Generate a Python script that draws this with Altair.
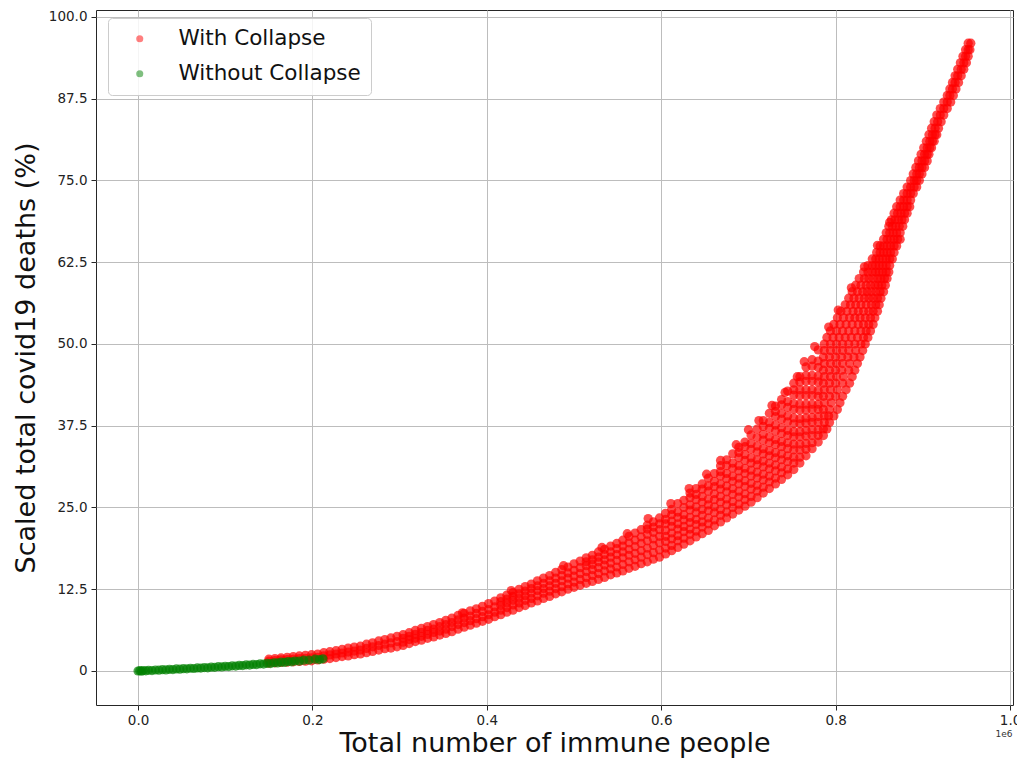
import altair as alt
import pandas as pd

# ---- series values (x in millions of immune people, y in % of deaths) ----

# "With Collapse": gentle part of the curve, one column of points per x
red_low = [
    (0.150, [1.2, 1.5, 1.8]), (0.157, [1.25, 1.6, 1.9]), (0.164, [1.3, 1.7, 2.0]),
    (0.171, [1.35, 1.75, 2.1]), (0.178, [1.4, 1.8, 2.2]), (0.185, [1.45, 1.9, 2.3]),
    (0.192, [1.5, 1.95, 2.4]), (0.199, [1.55, 2.0, 2.5]), (0.206, [1.7, 2.1, 2.6]),
    (0.213, [1.8, 2.3, 2.8]), (0.220, [1.9, 2.45, 2.95]), (0.227, [2.05, 2.6, 3.1]),
    (0.234, [2.2, 2.75, 3.3]), (0.241, [2.3, 2.9, 3.5]), (0.248, [2.5, 3.05, 3.65]),
    (0.255, [2.6, 3.2, 3.8]), (0.262, [2.8, 3.45, 4.1]), (0.269, [3.0, 3.7, 4.3]),
    (0.276, [3.2, 3.9, 4.6]), (0.283, [3.4, 4.1, 4.8]), (0.290, [3.5, 4.3, 5.05]),
    (0.297, [3.7, 4.5, 5.3]), (0.304, [3.9, 4.4, 5.0, 5.55]), (0.311, [4.2, 4.8, 5.3, 5.85]),
    (0.318, [4.5, 5.0, 5.6, 6.2]), (0.325, [4.7, 5.3, 5.9, 6.5]), (0.332, [5.0, 5.6, 6.2, 6.8]),
    (0.339, [5.2, 5.9, 6.4, 7.1]), (0.346, [5.5, 6.1, 6.8, 7.4]), (0.353, [5.75, 6.4, 7.1, 7.75]),
    (0.360, [6.0, 6.8, 7.4, 8.1]), (0.367, [6.4, 7.1, 7.8, 8.5]), (0.374, [6.7, 7.4, 8.1, 8.8]),
    (0.381, [7.0, 7.7, 8.4, 9.2]), (0.388, [7.3, 8.0, 8.8, 9.5]), (0.395, [7.6, 8.3, 9.1, 9.9]),
    (0.402, [7.9, 8.6, 9.4, 10.3]), (0.409, [8.3, 9.0, 9.8, 10.7]),
    (0.416, [8.6, 9.3, 10.0, 10.6, 11.2]), (0.423, [9.0, 9.7, 10.4, 11.0, 11.6]),
    (0.430, [9.3, 10.1, 10.8, 11.4, 12.0]), (0.437, [9.7, 10.4, 11.1, 11.8, 12.5]),
    (0.444, [10.0, 10.8, 11.5, 12.2, 12.9]),
]

red_mid = [
    (0.451, [10.4, 11.1, 11.9, 12.6, 13.3]), (0.458, [10.7, 11.5, 12.3, 13.0, 13.8]),
    (0.465, [11.1, 11.9, 12.6, 13.4, 14.2]), (0.472, [11.4, 12.2, 13.0, 13.8, 14.6]),
    (0.479, [11.8, 12.6, 13.4, 14.2, 15.1]), (0.486, [12.1, 12.9, 13.8, 14.6, 15.5]),
    (0.493, [12.5, 13.3, 14.2, 15.0, 15.9]), (0.500, [12.8, 13.6, 14.5, 15.4, 16.4]),
    (0.507, [13.1, 14.0, 14.9, 15.8, 16.8]), (0.514, [13.4, 14.3, 15.2, 16.1, 16.7, 17.3]),
    (0.521, [13.7, 14.6, 15.5, 16.3, 17.0, 17.7]), (0.528, [14.0, 14.9, 15.8, 16.7, 17.4, 18.2]),
    (0.535, [14.3, 15.3, 16.2, 17.0, 17.8, 18.6]), (0.542, [14.7, 15.6, 16.5, 17.4, 18.2, 19.1]),
    (0.549, [15.0, 15.9, 16.9, 17.8, 18.7, 19.5]), (0.556, [15.3, 16.3, 17.3, 18.2, 19.1, 20.0]),
    (0.563, [15.7, 16.7, 17.7, 18.6, 19.6, 20.6]), (0.570, [16.0, 17.0, 18.0, 19.0, 20.0, 21.1]),
    (0.577, [16.4, 17.4, 18.4, 19.5, 20.5, 21.6]),
    (0.584, [16.7, 17.8, 18.8, 19.9, 20.9, 21.7, 22.3]),
    (0.591, [17.1, 18.1, 19.2, 20.2, 21.2, 22.0, 22.8]),
    (0.598, [17.4, 18.5, 19.6, 20.6, 21.6, 22.5, 23.4]),
]

red_bend = [
    (0.605, [17.9, 18.8, 19.8, 20.6, 21.5, 22.5, 23.2, 24.1]),
    (0.612, [18.4, 19.2, 20.2, 21.1, 22.1, 22.9, 23.9, 24.7]),
    (0.619, [18.9, 19.9, 20.7, 21.7, 22.5, 23.5, 24.3, 25.6]),
    (0.626, [19.4, 20.3, 21.3, 22.1, 23.1, 23.9, 25.0, 26.1]),
    (0.633, [19.9, 20.9, 21.7, 22.7, 23.5, 24.6, 25.4, 26.5, 27.2]),
    (0.640, [20.5, 21.4, 22.4, 23.2, 24.2, 25.1, 26.2, 27.0, 27.9]),
    (0.647, [21.0, 22.0, 22.8, 23.8, 24.7, 25.8, 26.7, 27.8, 28.6]),
    (0.654, [21.5, 22.5, 23.4, 24.5, 25.4, 26.3, 27.5, 28.3, 29.5]),
    (0.661, [22.2, 23.1, 24.2, 25.1, 26.2, 27.1, 28.2, 29.0, 30.2]),
    (0.668, [22.8, 23.8, 24.7, 25.8, 26.7, 27.8, 28.6, 29.8, 30.5, 31.4]),
    (0.675, [23.4, 24.3, 25.4, 26.3, 27.4, 28.3, 29.4, 30.2, 31.4, 32.3]),
    (0.682, [24.0, 25.0, 25.9, 27.0, 27.9, 29.0, 29.8, 31.0, 31.8, 33.2]),
    (0.689, [24.6, 25.5, 26.6, 27.5, 28.6, 29.5, 30.6, 31.4, 32.6, 33.4, 34.2]),
    (0.696, [25.2, 26.2, 27.1, 28.2, 29.1, 30.2, 31.0, 32.2, 33.1, 34.3, 35.0]),
    (0.703, [25.8, 26.7, 27.8, 28.7, 29.8, 30.7, 31.8, 32.6, 33.9, 34.8, 36.1]),
    (0.710, [26.5, 27.5, 28.4, 29.5, 30.4, 31.5, 32.3, 33.5, 34.4, 35.7, 37.0]),
    (0.717, [27.2, 28.1, 29.2, 30.1, 31.2, 32.1, 33.2, 34.0, 35.3, 36.2, 37.4, 38.3]),
    (0.724, [27.9, 28.9, 29.8, 30.9, 31.8, 32.9, 33.7, 34.9, 35.8, 37.1, 38.0, 39.4]),
    (0.731, [28.6, 29.5, 30.6, 31.5, 32.6, 33.4, 34.6, 35.4, 36.7, 37.6, 38.9, 39.7, 40.5]),
    (0.738, [29.3, 30.3, 31.2, 32.3, 33.2, 34.3, 35.1, 36.3, 37.2, 38.5, 39.4, 40.7, 41.5]),
    (0.745, [30.0, 30.9, 32.0, 32.9, 34.0, 34.9, 36.0, 36.8, 38.1, 39.0, 40.3, 41.2, 42.8]),
    (0.752, [30.8, 31.8, 32.7, 33.8, 34.7, 35.8, 36.6, 37.8, 38.7, 40.0, 40.9, 42.2, 43.0, 44.0]),
    (0.759, [31.8, 32.7, 33.8, 34.7, 35.8, 36.6, 37.8, 38.6, 39.9, 40.8, 42.1, 43.0, 44.2, 45.0]),
    (0.766, [32.9, 33.9, 34.8, 35.9, 36.8, 37.9, 38.7, 39.9, 40.8, 42.1, 43.0, 44.3, 45.2, 46.5]),
    (0.773, [34.0, 34.9, 36.0, 36.9, 38.0, 38.8, 40.0, 40.8, 42.1, 43.0, 44.3, 45.2, 46.6, 47.6]),
    (0.780, [35.0, 36.0, 36.9, 38.0, 38.9, 40.0, 40.8, 42.0, 42.9, 44.2, 45.1, 46.4, 47.4, 49.1]),
]

# steep upper part: one row of points per y level
red_steep = [
    (36, [0.786]), (37, [0.786, 0.790]), (38, [0.787, 0.793]),
    (39, [0.787, 0.792, 0.798]), (40, [0.786, 0.793, 0.802]), (41, [0.787, 0.795, 0.805]),
    (42, [0.786, 0.793, 0.800, 0.808]), (43, [0.787, 0.794, 0.802, 0.812]),
    (44, [0.786, 0.793, 0.800, 0.808, 0.816]), (45, [0.787, 0.794, 0.801, 0.809, 0.819]),
    (46, [0.786, 0.793, 0.800, 0.807, 0.815, 0.822]),
    (47, [0.787, 0.794, 0.801, 0.808, 0.816, 0.825]),
    (48, [0.786, 0.793, 0.800, 0.807, 0.814, 0.821, 0.828]),
    (49, [0.787, 0.794, 0.801, 0.808, 0.815, 0.823, 0.831]),
    (50, [0.787, 0.794, 0.801, 0.808, 0.815, 0.822, 0.829, 0.834]),
    (51, [0.790, 0.797, 0.804, 0.811, 0.818, 0.825, 0.832, 0.837]),
    (52, [0.794, 0.801, 0.808, 0.815, 0.822, 0.829, 0.835, 0.840]),
    (53, [0.798, 0.805, 0.812, 0.819, 0.826, 0.832, 0.838, 0.843]),
    (54, [0.802, 0.809, 0.816, 0.822, 0.828, 0.834, 0.840, 0.845]),
    (55, [0.806, 0.813, 0.820, 0.826, 0.832, 0.838, 0.843, 0.848]),
    (56, [0.811, 0.817, 0.823, 0.829, 0.835, 0.841, 0.846, 0.850]),
    (57, [0.815, 0.821, 0.827, 0.833, 0.838, 0.843, 0.848, 0.852]),
    (58, [0.819, 0.825, 0.831, 0.836, 0.841, 0.846, 0.851, 0.855]),
    (59, [0.823, 0.829, 0.835, 0.840, 0.845, 0.849, 0.853, 0.857]),
    (60, [0.827, 0.833, 0.838, 0.843, 0.848, 0.852, 0.856, 0.859]),
    (61, [0.832, 0.837, 0.842, 0.846, 0.850, 0.854, 0.858, 0.861]),
    (62, [0.837, 0.842, 0.846, 0.850, 0.854, 0.858, 0.862]),
    (63, [0.842, 0.846, 0.850, 0.854, 0.858, 0.862, 0.865]),
    (64, [0.847, 0.851, 0.855, 0.859, 0.863, 0.867]),
    (65, [0.851, 0.855, 0.859, 0.863, 0.867, 0.870]),
    (66, [0.855, 0.859, 0.863, 0.867, 0.871, 0.874]),
    (67, [0.858, 0.862, 0.866, 0.870, 0.874]),
    (68, [0.861, 0.865, 0.869, 0.873, 0.877]),
    (69, [0.864, 0.868, 0.872, 0.876, 0.879]),
    (70, [0.867, 0.871, 0.875, 0.879, 0.882]),
    (71, [0.870, 0.874, 0.878, 0.882, 0.885]),
    (72, [0.874, 0.878, 0.882, 0.886]), (73, [0.878, 0.882, 0.886, 0.889]),
    (74, [0.882, 0.886, 0.890, 0.893]), (75, [0.886, 0.890, 0.893, 0.896]),
    (76, [0.889, 0.893, 0.896, 0.899]), (77, [0.892, 0.896, 0.899, 0.902]),
    (78, [0.895, 0.899, 0.902, 0.905]), (79, [0.898, 0.902, 0.905, 0.907]),
    (80, [0.901, 0.905, 0.908, 0.910]), (81, [0.904, 0.908, 0.911, 0.913]),
    (82, [0.907, 0.911, 0.914, 0.916]), (83, [0.910, 0.914, 0.918]),
    (84, [0.913, 0.917, 0.921]), (85, [0.916, 0.920, 0.924]),
    (86, [0.920, 0.924, 0.928]), (87, [0.924, 0.928, 0.932]),
    (88, [0.928, 0.931, 0.935]), (89, [0.931, 0.934, 0.938]),
    (90, [0.934, 0.937, 0.941]), (91, [0.937, 0.940, 0.944]),
    (92, [0.940, 0.944, 0.947]), (93, [0.943, 0.947, 0.950]),
    (94, [0.946, 0.949, 0.952]), (95, [0.949, 0.952, 0.954]),
    (96, [0.952, 0.955]),
]

# loose points along the upper edge of the cloud
red_stray_x = [0.372, 0.428, 0.488, 0.532, 0.561, 0.585, 0.611, 0.632, 0.652, 0.668,
               0.686, 0.700, 0.712, 0.727, 0.742, 0.756, 0.764, 0.776, 0.792, 0.803,
               0.818, 0.833, 0.848, 0.862]
red_stray_y = [8.9, 12.3, 16.1, 18.9, 21.0, 23.3, 25.6, 27.9, 30.1, 32.2,
               34.6, 36.9, 38.3, 40.6, 42.6, 45.0, 47.3, 49.6, 52.6, 55.2,
               58.6, 61.8, 65.1, 68.6]

# "Without Collapse"
green_x = [0.000, 0.002, 0.004, 0.006, 0.009, 0.012, 0.016, 0.020, 0.024, 0.028,
           0.032, 0.036, 0.040, 0.044, 0.048, 0.052, 0.056, 0.060, 0.064, 0.068,
           0.072, 0.076, 0.080, 0.084, 0.088, 0.092, 0.096, 0.100, 0.104, 0.108,
           0.112, 0.116, 0.120, 0.124, 0.128, 0.132, 0.136, 0.140, 0.144, 0.148,
           0.152, 0.156, 0.160, 0.164, 0.168, 0.172, 0.176, 0.180, 0.185, 0.190,
           0.196, 0.203, 0.208, 0.212]
green_y = [0.00, 0.05, -0.03, 0.06, 0.02, 0.10, 0.06, 0.15, 0.12, 0.20,
           0.17, 0.26, 0.22, 0.31, 0.27, 0.36, 0.33, 0.42, 0.38, 0.47,
           0.44, 0.53, 0.49, 0.59, 0.56, 0.66, 0.62, 0.72, 0.68, 0.79,
           0.76, 0.86, 0.83, 0.94, 0.90, 1.01, 0.98, 1.09, 1.06, 1.18,
           1.14, 1.26, 1.23, 1.35, 1.31, 1.44, 1.40, 1.53, 1.52, 1.66,
           1.68, 1.80, 1.74, 1.86]

series_names = ["With Collapse", "Without Collapse"]
series_colors = ["#ff0000", "#008000"]
x_ticks = [0.0, 0.2, 0.4, 0.6, 0.8, 1.0]
y_ticks = [0, 12.5, 25, 37.5, 50, 62.5, 75, 87.5, 100]

# ---- assemble one long table (red first so green sits on top) ----
records = []
for x, ys in red_low + red_mid + red_bend:
    for y in ys:
        records.append((x, y, series_names[0]))
for y, xs in red_steep:
    for x in xs:
        records.append((x, y, series_names[0]))
for x, y in zip(red_stray_x, red_stray_y):
    records.append((x, y, series_names[0]))
for x, y in zip(green_x, green_y):
    records.append((x, y, series_names[1]))
df = pd.DataFrame(records, columns=["immune", "deaths", "series"])

FONT = "DejaVu Sans"
x_scale = alt.Scale(domain=[-0.0482, 1.0034], nice=False, zero=False)
y_scale = alt.Scale(domain=[-5.2, 101.07], nice=False, zero=False)

points = alt.Chart(df).mark_circle(size=85, opacity=0.7).encode(
    x=alt.X("immune:Q", scale=x_scale,
            axis=alt.Axis(title="Total number of immune people", values=x_ticks,
                          labelExpr="format(datum.value, '.1f')",
                          labelPadding=3, titleFontSize=27, titlePadding=4)),
    y=alt.Y("deaths:Q", scale=y_scale,
            axis=alt.Axis(title="Scaled total covid19 deaths (%)", values=y_ticks,
                          labelExpr="datum.value == 0 ? '0' : format(datum.value, '.1f')",
                          labelPadding=4, titleFontSize=27, titlePadding=8)),
    color=alt.Color("series:N",
                    scale=alt.Scale(domain=series_names, range=series_colors),
                    legend=alt.Legend(title=None, orient="none", legendX=12, legendY=8,
                                      labelFont=FONT, labelFontSize=21.5, labelColor="#111111",
                                      labelLimit=400,
                                      symbolType="circle", symbolSize=50, symbolOpacity=0.5,
                                      symbolStrokeWidth=0, symbolOffset=11, labelOffset=28,
                                      padding=10, rowPadding=12,
                                      strokeColor="#cccccc", fillColor="rgba(255,255,255,0.85)",
                                      cornerRadius=4)),
)

# scale multiplier shown under the right end of the x axis
offset_label = alt.Chart(pd.DataFrame({"t": ["1e6"]})).mark_text(
    font=FONT, fontSize=9, color="#333333", align="center", baseline="top", dx=-6
).encode(x=alt.datum(1.0), y=alt.value(720), text="t:N")

chart = alt.layer(points, offset_label).properties(
    width=917, height=695, autosize="none",
    padding={"left": 96, "top": 10, "right": 4, "bottom": 54},
    background="white",
).configure_view(
    stroke="#262626", strokeWidth=1
).configure_axis(
    labelFont=FONT, titleFont=FONT, titleFontWeight="normal",
    labelFontSize=13.5, labelColor="#222222", titleColor="#111111",
    tickColor="#262626", tickSize=5, tickWidth=1,
    domain=False, grid=True, gridColor="#bdbdbd", gridWidth=1,
)

chart.save("out.html", embed_options={"renderer": "svg", "actions": False})
